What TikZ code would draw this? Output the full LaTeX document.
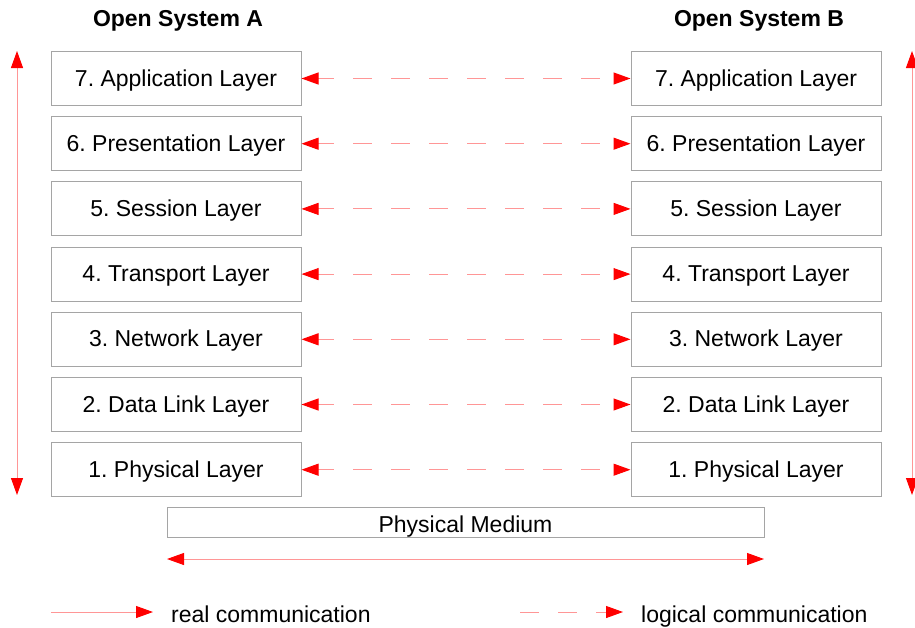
\documentclass[tikz,border=0pt]{standalone}
\usepackage{fontspec}
\setmainfont{Liberation Sans}
\usetikzlibrary{arrows.meta}
\definecolor{boxgray}{RGB}{165,165,165}
\definecolor{linepink}{RGB}{255,150,150}
\frenchspacing
\tikzset{
  redtip/.tip={Triangle[length=17pt,width=12pt,color=red]},
  layer/.style={draw=boxgray, line width=1pt, minimum width=250pt, minimum height=54pt, inner sep=0pt, text height=17pt, text depth=2pt, font=\fontsize{23}{27}\selectfont\frenchspacing},
  medium/.style={draw=boxgray, line width=1pt, minimum width=597pt, minimum height=30pt, inner sep=0pt, text height=20pt, text depth=0pt, font=\fontsize{23}{27}\selectfont},
  title/.style={font=\fontsize{23}{27}\selectfont\bfseries, anchor=base, inner sep=0pt},
  legtext/.style={font=\fontsize{23}{27}\selectfont, anchor=base west, inner sep=0pt},
  real/.style={draw=linepink, line width=1pt},
  logical/.style={draw=linepink, line width=1pt, dash pattern=on 19pt off 19pt, dash phase=3pt}
}
\begin{document}
\begin{tikzpicture}[x=1pt,y=-1pt]
\useasboundingbox (0,0) rectangle (915,627);
\node[title] (TA) at (178,26) {Open System A};
\node[title] (TB) at (759,26) {Open System B};
\foreach \i/\t in {7/Application,6/Presentation,5/Session,4/Transport,3/Network,2/Data Link,1/Physical}{
  \pgfmathsetmacro{\yy}{78.5+(7-\i)*65.2}
  \node[layer] (A\i) at (176,\yy) {\i. \t\ Layer};
  \node[layer] (B\i) at (756,\yy) {\i. \t\ Layer};
  \draw[logical, {redtip}-{redtip}] (A\i.east) -- (B\i.west);
}
\node[medium] (PM) at (465.5,522) {Physical Medium};
\coordinate (PL) at (167,559);
\coordinate (PR) at (764,559);
\draw[real, {redtip}-{redtip}] (PL) -- (PR);
\coordinate (LT) at (17,51);
\coordinate (LB) at (17,495);
\draw[real, {redtip}-{redtip}] (LT) -- (LB);
\coordinate (RT) at (912,51);
\coordinate (RB) at (912,495);
\draw[real, {redtip}-{redtip}] (RT) -- (RB);
\coordinate (R1) at (51,612);
\coordinate (R2) at (153,612);
\draw[real, -{redtip}] (R1) -- (R2);
\node[legtext] (RL) at (171,622) {real communication};
\coordinate (L1) at (520,612);
\coordinate (L2) at (623,612);
\draw[logical, dash phase=0pt, -{redtip}] (L1) -- (L2);
\node[legtext] (LL) at (641,622) {logical communication};
\end{tikzpicture}
\end{document}
